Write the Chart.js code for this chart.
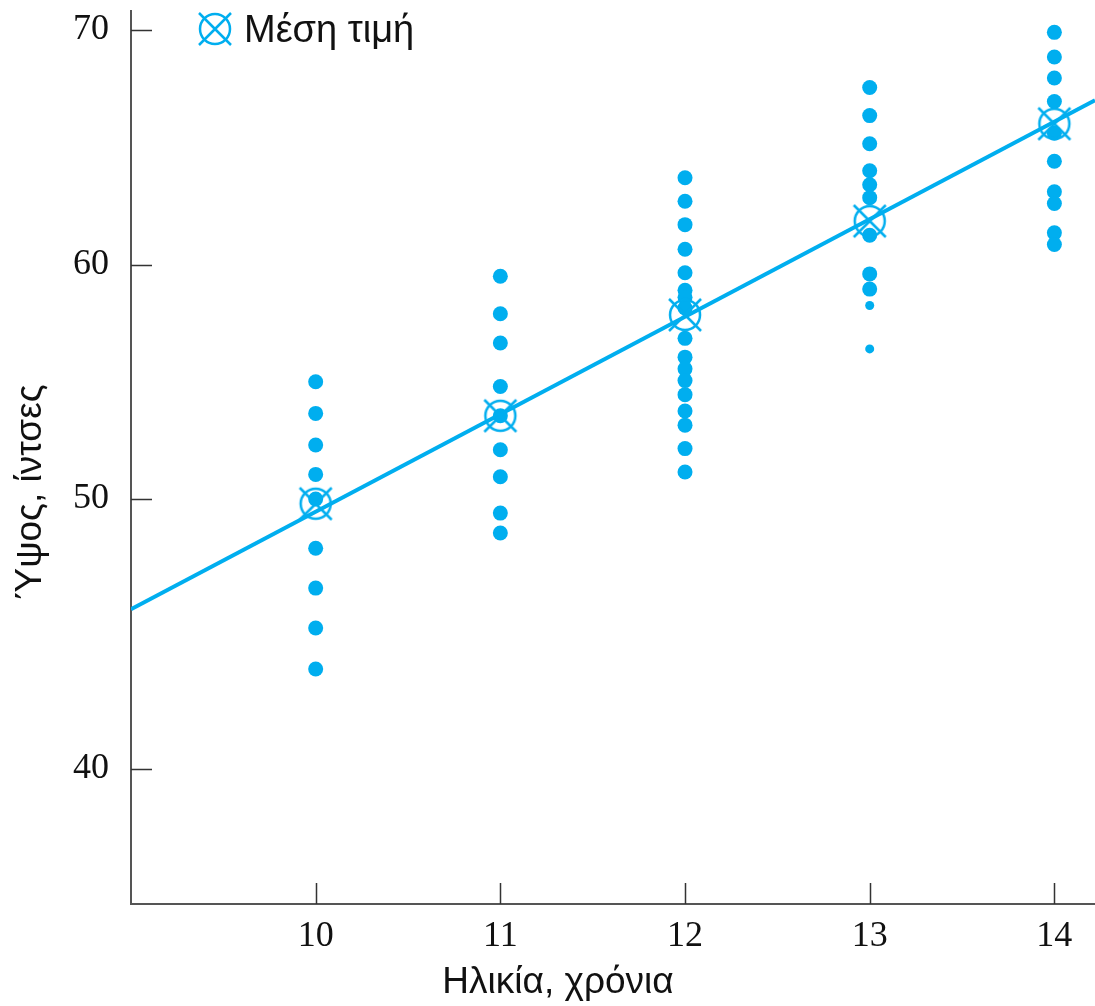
<!DOCTYPE html>
<html>
<head>
<meta charset="utf-8">
<script src="https://cdn.jsdelivr.net/npm/chart.js@4.4.0/dist/chart.umd.min.js"></script>
<style>
  html, body { margin: 0; padding: 0; background: #fff; }
  #wrap { width: 1095px; height: 1006px; position: relative; }
</style>
</head>
<body>
<div id="wrap"><canvas id="myChart"></canvas></div>
<script>
// heights (inches) for each age
var ages = [10, 11, 12, 13, 14];
var heights10 = [55.0, 53.65, 52.3, 51.05, 50.0, 47.9, 46.2, 44.5, 42.75];
var heights11 = [59.5, 57.9, 56.65, 54.8, 53.55, 52.1, 50.95, 49.4, 48.55];
var heights12 = [63.7, 62.7, 61.7, 60.65, 59.65, 58.9, 58.6, 58.15, 56.85, 56.05, 55.55, 55.05, 54.45, 53.75, 53.15, 52.15, 51.15];
var heights13 = [67.55, 66.35, 65.15, 64.0, 63.4, 62.85, 61.25, 59.6, 58.95];
var heights13small = [58.25, 56.4]; // the two smaller dots at 13
var heights14 = [69.9, 68.85, 67.95, 66.95, 65.6, 64.4, 63.1, 62.6, 61.35, 60.85];

// mean height per age
var means = [49.8, 53.55, 57.85, 61.85, 66.0];

// fitted line, end points at the edges of the plot
var fitX = [9, 14.22];
var fitY = [45.3, 67.0];

// axis ticks (the 40 tick sits lower in the original drawing than a linear 10-step)
var xTicks = [10, 11, 12, 13, 14];
var yTickValues = [38.5, 50, 60, 70];
var yTickLabels = ['40', '50', '60', '70'];

var blue = '#00aeef';
var serif = '"Liberation Serif", "Times New Roman", serif';
var sans = '"Liberation Sans", Arial, sans-serif';

function toPoints(age, list) {
  return list.map(function (v) { return { x: age, y: v }; });
}

var bigDots = []
  .concat(toPoints(ages[0], heights10))
  .concat(toPoints(ages[1], heights11))
  .concat(toPoints(ages[2], heights12))
  .concat(toPoints(ages[3], heights13))
  .concat(toPoints(ages[4], heights14));

var meanPoints = ages.map(function (a, i) { return { x: a, y: means[i] }; });
var fitPoints = fitX.map(function (x, i) { return { x: x, y: fitY[i] }; });

// circle with a diagonal cross, used for the mean markers and the legend
function makeMeanSymbol() {
  var c = document.createElement('canvas');
  c.width = 40; c.height = 40;
  var g = c.getContext('2d');
  g.strokeStyle = blue;
  g.lineWidth = 2.5;
  g.beginPath();
  g.arc(20, 20, 15, 0, Math.PI * 2);
  g.stroke();
  g.beginPath();
  g.moveTo(4, 4); g.lineTo(36, 36);
  g.moveTo(36, 4); g.lineTo(4, 36);
  g.stroke();
  return c;
}
var meanSymbol = makeMeanSymbol();

// tick marks pointing into the plot, titles and the small legend
var extras = {
  id: 'extras',
  afterDraw: function (chart) {
    var ctx = chart.ctx;
    var area = chart.chartArea;
    var xs = chart.scales.x, ys = chart.scales.y;
    ctx.save();
    ctx.strokeStyle = '#333';
    ctx.lineWidth = 1.5;
    ctx.beginPath();
    xTicks.forEach(function (v) {
      var px = Math.round(xs.getPixelForValue(v)) + 0.5;
      ctx.moveTo(px, area.bottom);
      ctx.lineTo(px, area.bottom - 21);
    });
    yTickValues.forEach(function (v) {
      var py = Math.round(ys.getPixelForValue(v)) + 0.5;
      ctx.moveTo(area.left, py);
      ctx.lineTo(area.left + 21, py);
    });
    ctx.stroke();

    ctx.fillStyle = '#111';
    ctx.font = '37px ' + sans;
    ctx.textAlign = 'center';
    ctx.textBaseline = 'alphabetic';
    ctx.fillText('Ηλικία, χρόνια', 558, 993);

    ctx.font = '37px ' + sans;
    ctx.translate(41, 492);
    ctx.rotate(-Math.PI / 2);
    ctx.fillText('Ύψος, ίντσες', 0, 0);
    ctx.restore();

    ctx.save();
    ctx.drawImage(meanSymbol, 215 - 20, 29 - 20);
    ctx.fillStyle = '#111';
    ctx.font = '38px ' + sans;
    ctx.textAlign = 'left';
    ctx.textBaseline = 'alphabetic';
    ctx.fillText('Μέση τιμή', 244, 42);
    ctx.restore();
  }
};

const ctx = document.getElementById('myChart');

new Chart(ctx, {
  type: 'scatter',
  data: {
    datasets: [
      {
        label: 'Μέση τιμή',
        data: meanPoints,
        pointStyle: meanSymbol,
        order: 0
      },
      {
        type: 'line',
        label: 'fit',
        data: fitPoints,
        borderColor: blue,
        borderWidth: 4,
        pointRadius: 0,
        fill: false,
        order: 1
      },
      {
        label: 'heights',
        data: bigDots,
        backgroundColor: blue,
        borderWidth: 0,
        pointRadius: 7.5,
        order: 2
      },
      {
        label: 'heights small',
        data: toPoints(ages[3], heights13small),
        backgroundColor: blue,
        borderWidth: 0,
        pointRadius: 4.5,
        order: 2
      }
    ]
  },
  options: {
    responsive: true,
    maintainAspectRatio: false,
    animation: false,
    layout: { autoPadding: false, padding: { top: 11, right: 0, left: 0, bottom: 0 } },
    plugins: {
      legend: { display: false },
      tooltip: { enabled: false }
    },
    scales: {
      x: {
        type: 'linear',
        min: 9,
        max: 14.22,
        afterBuildTicks: function (scale) {
          scale.ticks = xTicks.map(function (v) { return { value: v }; });
        },
        afterFit: function (scale) {
          scale.height = 102;
          scale.paddingLeft = 0;
          scale.paddingRight = 0;
        },
        grid: { display: false, drawTicks: false },
        border: { display: true, color: '#555', width: 2 },
        ticks: {
          color: '#111',
          font: { family: serif, size: 36 },
          padding: 11,
          maxRotation: 0,
          autoSkip: false
        }
      },
      y: {
        type: 'linear',
        min: 32.73,
        max: 70.81,
        afterBuildTicks: function (scale) {
          scale.ticks = yTickValues.map(function (v) { return { value: v }; });
        },
        afterFit: function (scale) {
          scale.width = 131;
          scale.paddingTop = 0;
          scale.paddingBottom = 0;
        },
        grid: { display: false, drawTicks: false },
        border: { display: true, color: '#555', width: 2 },
        ticks: {
          color: '#111',
          font: { family: serif, size: 36 },
          padding: 22,
          autoSkip: false,
          callback: function (value, index) { return yTickLabels[index]; }
        }
      }
    }
  },
  plugins: [extras]
});
</script>
</body>
</html>
